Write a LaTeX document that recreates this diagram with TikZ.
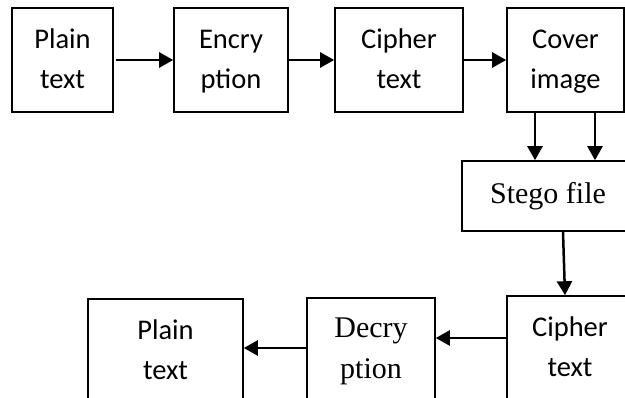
\documentclass[tikz,border=0pt]{standalone}
\usepackage{fontspec}
\setmainfont{Liberation Serif}
\newfontfamily\boxsans{Carlito}
\usetikzlibrary{arrows.meta}
% every line carries a strut so that all boxes share the same baselines
\newcommand{\strutline}[1]{\strut#1}
\tikzset{
  stage/.style={draw=black, line width=1.6pt, rectangle, inner sep=0pt,
    align=center, font=\boxsans\fontsize{28.5}{40}\selectfont},
  serifstage/.style={stage, font=\rmfamily\fontsize{30}{41}\selectfont},
  flow/.style={line width=2.5pt, -{Triangle[length=14pt,width=15pt]}}
}
\begin{document}
\begin{tikzpicture}[x=1pt, y=-1pt]
  \useasboundingbox (0,0) rectangle (625,397);
  \clip (0,0) rectangle (625,397);
  \fill[white] (0,0) rectangle (625,397);

  % encryption side
  \node[stage, minimum width=101pt, minimum height=104pt] (plainA) at (62.5,60) {\strutline{Plain}\\\strutline{text}};
  \node[stage, minimum width=114pt, minimum height=104pt] (encr) at (231,60) {\strutline{Encry}\\\strutline{ption}};
  \node[stage, minimum width=128pt, minimum height=104pt] (cipherA) at (399,60) {\strutline{Cipher}\\\strutline{text}};
  \node[stage, minimum width=117pt, minimum height=104pt] (cover) at (565.5,60) {\strutline{Cover}\\\strutline{image}};

  % embedding result
  \node[serifstage, minimum width=172pt, minimum height=70pt] (stego) at (548,196) {Stego file};

  % decryption side
  \node[stage, minimum width=126pt, minimum height=104pt] (cipherB) at (570,348) {\strutline{Cipher}\\\strutline{text}};
  \node[serifstage, minimum width=128pt, minimum height=104pt] (decr) at (371,350) {\strutline{Decry}\\\strutline{ption}};
  \node[stage, minimum width=155pt, minimum height=104pt] (plainB) at (165.5,351) {\strutline{Plain}\\\strutline{text}};

  % connectors
  \draw[flow] ([xshift=2pt]plainA.east) -- (encr.west);
  \draw[flow] (encr.east) -- (cipherA.west);
  \draw[flow] (cipherA.east) -- (cover.west);
  \draw[flow] ([xshift=-30.5pt]cover.south) -- ([xshift=-30.5pt]cover.south |- stego.north);
  \draw[flow] ([xshift=29.5pt]cover.south) -- ([xshift=29.5pt]cover.south |- stego.north);
  \draw[flow] ([xshift=15pt]stego.south) -- ([xshift=-5pt]cipherB.north);
  \draw[flow] ([yshift=10pt]cipherB.west) -- ([yshift=10pt]cipherB.west -| decr.east);
  \draw[flow] ([yshift=2pt]decr.west) -- ([yshift=2pt]decr.west -| plainB.east);
\end{tikzpicture}
\end{document}
